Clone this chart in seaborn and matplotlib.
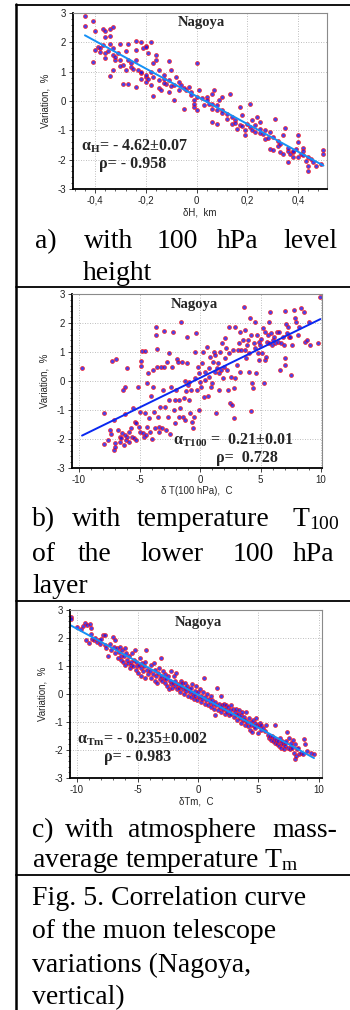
import numpy as np
import pandas as pd
import matplotlib
matplotlib.use("Agg")
import matplotlib.pyplot as plt
import seaborn as sns
from matplotlib.ticker import MultipleLocator, FixedLocator, FixedFormatter


# =====================================
# DATA
# =====================================

# a) variation vs 100 hPa level height change, km
points_height = [
    (-0.44, 2.90), (-0.44, 2.57), (-0.41, 2.72), (-0.40, 2.39), (-0.37, 2.47),
    (-0.36, 2.39), (-0.34, 2.45), (-0.33, 2.53), (-0.36, 2.19), (-0.34, 2.21),
    (-0.41, 1.33), (-0.40, 1.73), (-0.39, 1.85), (-0.37, 1.90), (-0.38, 1.68),
    (-0.36, 1.62), (-0.36, 1.45), (-0.34, 1.96), (-0.33, 1.79), (-0.33, 1.56),
    (-0.30, 1.96), (-0.31, 1.62), (-0.32, 1.39), (-0.33, 1.07), (-0.34, 0.84),
    (-0.30, 1.39), (-0.29, 1.22), (-0.28, 1.71), (-0.27, 1.96), (-0.27, 1.39),
    (-0.26, 1.16), (-0.29, 0.59), (-0.27, 0.57), (-0.26, 1.28), (-0.24, 2.05),
    (-0.24, 1.73), (-0.24, 1.39), (-0.23, 1.05), (-0.24, 0.48), (-0.22, 2.02),
    (-0.21, 1.79), (-0.20, 1.87), (-0.19, 1.62), (-0.18, 2.02), (-0.20, 1.85),
    (-0.22, 0.94), (-0.22, 0.76), (-0.20, 0.82), (-0.20, 0.65), (-0.18, 0.99),
    (-0.17, 1.28), (-0.18, 0.54), (-0.16, 1.56), (-0.16, 1.39), (-0.17, 0.82),
    (-0.17, 0.16), (-0.15, 1.05), (-0.15, 0.46), (-0.14, 0.36), (-0.13, 0.88),
    (-0.13, 0.76), (-0.12, 0.59), (-0.11, 0.31), (-0.11, 0.71), (-0.11, 1.37),
    (-0.10, 1.05), (-0.09, 0.54), (-0.09, 0.02), (-0.08, 0.82), (-0.07, 0.65),
    (-0.07, 0.36), (-0.06, 0.54), (-0.05, -0.26), (-0.04, 0.36), (-0.03, 0.48),
    (-0.02, 0.31), (-0.01, 0.02), (-0.01, -0.21), (-0.01, -0.09), (0.00, 0.14),
    (0.00, 1.30), (0.00, -0.32), (0.01, 0.36), (0.03, -0.15), (0.04, 0.14),
    (0.04, 0.02), (0.05, -0.09), (0.06, -0.26), (0.06, 0.25), (0.07, 0.36),
    (0.08, -0.15), (0.08, -0.32), (0.09, 0.02), (0.10, 0.14), (0.06, -0.72),
    (0.08, -0.78), (0.10, -0.32), (0.12, -0.43), (0.13, 0.25), (0.14, -0.55),
    (0.14, -0.78), (0.15, -0.66), (0.16, -0.95), (0.17, -0.83), (0.17, -0.21),
    (0.18, -0.49), (0.19, -1.17), (0.19, -1.00), (0.20, -0.78), (0.21, -0.09),
    (0.21, -0.89), (0.22, -0.66), (0.23, -1.06), (0.23, -0.83), (0.24, -0.55),
    (0.25, -0.72), (0.25, -0.95), (0.26, -1.12), (0.27, -1.29), (0.27, -1.00),
    (0.29, -1.06), (0.29, -1.63), (0.30, -1.66), (0.30, -1.23), (0.31, -0.60),
    (0.32, -1.35), (0.32, -1.52), (0.33, -1.74), (0.34, -1.80), (0.35, -0.91),
    (0.36, -2.09), (0.34, -1.17), (0.36, -1.69), (0.37, -1.80), (0.38, -1.92),
    (0.38, -1.74), (0.39, -1.63), (0.40, -1.17), (0.40, -1.40), (0.40, -1.92),
    (0.41, -1.80), (0.42, -1.59), (0.42, -1.69), (0.43, -2.03), (0.44, -2.37),
    (0.44, -2.20), (0.44, -1.92), (0.45, -1.97), (0.46, -2.09), (0.47, -2.20),
    (0.49, -2.14), (0.50, -1.66), (0.50, -1.82),
    (-0.30, 1.20), (-0.28, 1.05), (-0.25, 1.10), (-0.22, 1.00), (-0.20, 0.90),
    (-0.19, 0.75), (-0.15, 0.70), (-0.13, 0.60), (-0.10, 0.50), (-0.05, 0.45),
    (-0.02, 0.20), (0.02, 0.10), (0.06, -0.10), (0.10, -0.40), (0.12, -0.60),
    (0.15, -0.75), (0.18, -0.85), (0.22, -1.00), (0.25, -1.10), (0.28, -1.25),
    (0.33, -1.45), (0.36, -1.60), (0.38, -1.70), (0.42, -1.85), (-0.35, 1.70),
    (-0.32, 1.50), (-0.38, 1.80),
]

# b) variation vs temperature of the lower 100 hPa layer, C
points_t100 = [
    (-9.75, 0.44), (-7.96, -1.09), (-7.90, -2.17), (-7.41, -1.69), (-7.33, -1.83),
    (-7.27, 0.69), (-6.91, 0.77), (-7.13, -1.34), (-7.05, -2.15), (-7.08, -2.38),
    (-7.00, -2.26), (-6.64, -1.92), (-6.58, -2.09), (-6.50, -1.98), (-6.45, -1.80),
    (-6.39, -0.31), (-6.31, -2.21), (-6.23, -0.20), (-6.17, -1.14), (-6.12, -2.02),
    (-6.03, 0.46), (-6.03, -1.92), (-5.90, -1.75), (-5.84, -2.09), (-5.67, -1.63),
    (-5.62, -1.92), (-5.56, -0.94), (-5.48, -1.98), (-5.40, -1.40), (-5.29, -1.46),
    (-5.15, -0.20), (-5.07, -1.57), (-4.99, -1.06), (-4.93, -1.75), (-4.85, 0.69),
    (-4.85, 0.53), (-4.79, 1.05), (-4.74, -1.80), (-4.66, -1.92), (-4.57, 1.03),
    (-4.52, -1.11), (-4.46, -1.86), (-4.38, -0.08), (-4.30, 0.29), (-4.24, -1.29),
    (-4.10, -1.75), (-4.02, -0.52), (-3.97, -2.01), (-3.91, -0.20), (-3.86, 0.38),
    (-3.83, -1.06), (-3.75, -1.63), (-3.64, 1.87), (-3.64, 1.59), (-3.58, 1.09),
    (-3.55, 0.49), (-3.47, -1.23), (-3.42, -1.75), (-3.36, -1.57), (-3.28, -0.89),
    (-3.20, 0.49), (-3.14, -1.63), (-3.09, -0.31), (-3.00, 0.49), (-2.95, 1.72),
    (-2.87, -0.89), (-2.81, -1.69), (-2.73, 0.67), (-2.64, -1.23), (-2.59, 0.95),
    (-2.53, -0.66), (-2.45, -1.83), (-2.37, -0.22), (-2.31, 0.47), (-2.26, 1.68),
    (-2.18, -1.00), (-2.09, -1.46), (-2.04, -0.66), (-1.98, -0.31), (-1.90, 0.75),
    (-1.82, 0.67), (-1.76, -1.23), (-1.71, -0.66), (-1.63, -0.94), (-1.57, 2.05),
    (-1.49, 0.67), (-1.43, -1.23), (-1.35, -0.60), (-1.27, 0.01), (-1.21, -1.34),
    (-1.16, -0.33), (-1.07, 1.53), (-1.07, 0.63), (-0.99, -0.14), (-0.94, -0.66),
    (-0.88, -0.02), (-0.80, -1.11), (-0.72, -0.31), (-0.66, -1.40), (-0.61, -1.63),
    (-0.52, -1.23), (-0.44, 0.09), (-0.39, 1.01), (-0.33, 1.67), (-0.25, -0.31),
    (-0.17, 0.49), (-0.11, -1.00), (-0.06, 0.26), (0.03, -0.02), (0.11, -0.20),
    (0.17, 0.61), (0.22, 1.01), (0.30, -0.54), (0.39, 0.03), (0.44, 0.32),
    (0.58, 1.16), (0.66, -0.52), (0.72, 0.15), (0.77, 0.44), (0.85, 0.84),
    (0.94, -0.20), (0.99, -0.08), (1.05, 0.67), (1.13, 1.01), (1.21, 0.32),
    (1.27, 0.90), (1.32, -1.09), (1.40, 0.44), (1.49, 0.61), (1.54, 0.26),
    (1.60, -0.31), (1.68, 1.01), (1.76, 0.38), (1.82, 1.30), (1.87, 0.09),
    (1.96, 0.49), (2.04, 1.47), (2.09, 0.78), (2.15, 1.13), (2.23, 0.38),
    (2.31, -0.31), (2.37, 1.87), (2.42, 0.95), (2.51, -0.77), (2.59, 0.15),
    (2.64, -0.83), (2.70, 1.07), (2.78, -0.25), (2.84, -1.29), (2.92, 1.85),
    (2.92, 0.09), (3.06, 0.55), (3.14, 1.07), (3.20, 1.30), (3.28, 1.70),
    (3.33, 0.32), (3.42, 1.07), (3.53, 1.41), (3.61, 2.54), (3.69, 1.76),
    (3.75, 1.07), (3.80, 0.78), (3.88, 1.24), (3.97, 1.41), (4.02, 0.32),
    (4.08, 0.95), (4.16, 2.16), (4.21, 1.59), (4.24, -1.02), (4.30, -0.08),
    (4.35, -0.25), (4.44, 1.30), (4.52, 2.05), (4.57, 1.13), (4.63, 0.26),
    (4.71, 1.59), (4.79, 0.95), (4.85, 1.36), (4.90, 0.72), (4.99, 1.24),
    (5.07, 1.44), (5.12, 0.95), (5.18, 1.82), (5.26, -0.08), (5.34, 0.72),
    (5.40, 1.70), (5.45, 0.84), (5.54, 1.36), (5.62, 1.59), (5.67, 1.30),
    (5.73, 2.05), (5.81, 2.37), (5.90, 1.64), (5.95, 1.24), (6.03, 1.41),
    (6.09, 1.53), (6.23, 1.30), (6.36, 1.70), (6.45, 1.36), (6.56, 1.70),
    (6.64, 0.38), (6.72, 1.30), (6.83, 1.53), (6.91, 1.24), (6.99, 0.78),
    (6.99, 2.43), (7.05, 0.55), (7.11, 1.97), (7.19, 1.64), (7.27, 1.85),
    (7.33, 1.53), (7.47, 1.53), (7.55, 0.21), (7.60, 1.24), (7.74, 2.45),
    (7.82, 2.16), (7.93, 2.05), (8.10, 1.59), (8.21, 1.87), (8.37, 2.51),
    (8.57, 2.39), (8.71, 1.36), (8.84, 1.41), (8.98, 2.05), (9.12, 1.24),
    (9.75, 1.30), (9.95, 2.89),
    (-7.60, -2.05), (-6.80, -1.70), (-6.20, -1.85), (-5.30, -2.05), (-4.40, -1.60),
]

# c) variation vs atmosphere mass-average temperature, C
points_tm = [
    (-10.52, 2.76), (-10.47, 2.67), (-9.97, 2.38), (-9.64, 2.33), (-9.50, 2.44),
    (-9.31, 2.52), (-9.15, 2.48), (-8.95, 2.50), (-8.82, 2.36), (-9.23, 1.92),
    (-9.04, 1.83), (-8.87, 2.15), (-8.76, 1.98), (-8.60, 1.92), (-8.49, 2.01),
    (-8.32, 1.86), (-8.21, 1.94), (-8.13, 1.78), (-7.99, 1.98), (-7.85, 2.09),
    (-7.66, 2.12), (-7.71, 1.74), (-7.58, 1.63), (-7.44, 1.34), (-7.30, 1.80),
    (-7.22, 1.57), (-7.02, 2.03), (-6.94, 1.69), (-6.89, 1.92), (-6.83, 1.45),
    (-6.67, 1.63), (-6.61, 1.28), (-6.56, 1.51), (-6.47, 1.69), (-6.39, 1.36),
    (-6.34, 1.22), (-6.28, 1.57), (-6.20, 1.16), (-6.12, 1.34), (-6.06, 1.63),
    (-6.01, 1.05), (-5.92, 1.45), (-5.84, 1.22), (-5.79, 1.10), (-5.73, 1.34),
    (-5.65, 0.93), (-5.56, 1.16), (-5.51, 1.05), (-5.45, 1.45), (-5.37, 1.01),
    (-5.29, 1.22), (-5.23, 1.57), (-5.15, 0.87), (-5.10, 1.13), (-5.01, 0.99),
    (-4.96, 0.76), (-4.90, 1.05), (-4.82, 1.28), (-4.74, 0.64), (-4.68, 0.93),
    (-4.63, 1.10), (-4.55, 0.81), (-4.46, 0.99), (-4.41, 0.58), (-4.35, 1.16),
    (-4.27, 1.57), (-4.19, 0.87), (-4.13, 0.70), (-3.99, 0.81), (-3.91, 1.05),
    (-3.86, 0.58), (-3.72, 0.70), (-3.64, 1.10), (-3.58, 0.47), (-3.53, 0.87),
    (-3.44, 0.64), (-3.36, 0.41), (-3.31, 0.76), (-3.25, 0.93), (-3.17, 0.52),
    (-3.09, 0.64), (-3.03, 1.28), (-2.98, 0.47), (-2.89, 0.81), (-2.81, 0.58),
    (-2.75, 0.41), (-2.70, 0.70), (-2.62, 0.52), (-2.53, 0.29), (-2.48, 0.64),
    (-2.42, 0.17), (-2.34, 0.47), (-2.26, 0.35), (-2.20, 0.81), (-2.15, 0.23),
    (-2.07, 0.41), (-1.98, 0.64), (-1.93, 0.29), (-1.87, 0.47), (-1.79, 0.76),
    (-1.71, 0.17), (-1.65, 0.35), (-1.60, 0.23), (-1.52, 0.06), (-1.43, 0.47),
    (-1.38, 0.29), (-1.32, 0.41), (-1.24, 0.17), (-1.16, 0.00), (-1.10, 0.23),
    (-1.05, 0.41), (-0.96, 0.12), (-0.88, 0.29), (-0.83, -0.06), (-0.77, 0.17),
    (-0.69, 0.06), (-0.61, 0.23), (-0.55, -0.12), (-0.50, 0.35), (-0.41, 0.00),
    (-0.33, -0.17), (-0.28, 0.12), (-0.22, -0.06), (-0.14, 0.29), (-0.06, -0.23),
    (0.00, 0.06), (0.06, -0.12), (0.14, 0.17), (0.22, -0.29), (0.28, -0.06),
    (0.36, -0.17), (0.41, 0.06), (0.50, 0.58), (0.55, -0.35), (0.61, -0.12),
    (0.69, -0.23), (0.77, 0.00), (0.83, -0.41), (0.88, -0.17), (0.96, -0.29),
    (1.05, -0.06), (1.10, -0.47), (1.16, -0.23), (1.24, -0.35), (1.32, -0.52),
    (1.38, -0.76), (1.43, -0.29), (1.52, -0.41), (1.60, 0.23), (1.65, -0.58),
    (1.71, -0.35), (1.79, -0.47), (1.87, -0.06), (1.93, -0.64), (1.98, -0.41),
    (2.07, -0.52), (2.15, -0.35), (2.20, -0.70), (2.26, -0.52), (2.34, -0.41),
    (2.42, -0.64), (2.48, -0.47), (2.53, -0.76), (2.62, -0.58), (2.70, -0.41),
    (2.75, -0.70), (2.89, -0.52), (2.98, -0.81), (3.03, -0.64), (3.11, -0.52),
    (3.17, -0.76), (3.25, -0.93), (3.31, -0.70), (3.36, -0.58), (3.44, -0.87),
    (3.53, -0.76), (3.58, -1.05), (3.64, -0.64), (3.72, -0.93), (3.80, -0.81),
    (3.86, -1.10), (3.91, -0.93), (3.99, -0.64), (4.08, -0.99), (4.13, -1.16),
    (4.19, -0.87), (4.27, -1.28), (4.35, -0.99), (4.41, -1.10), (4.46, -1.34),
    (4.55, -0.93), (4.63, -1.16), (4.68, -1.05), (4.74, -1.22), (4.82, -0.87),
    (4.90, -1.10), (4.96, -1.40), (5.01, -1.16), (5.10, -1.05), (5.18, -1.28),
    (5.23, -1.10), (5.37, -1.22), (5.51, -1.31), (5.65, -1.10), (5.79, -1.45),
    (5.87, -1.57), (5.92, -1.51), (6.06, -1.63), (6.12, -1.51), (6.20, -1.69),
    (6.28, -1.57), (6.34, -1.10), (6.39, -1.74), (6.47, -1.63), (6.56, -1.80),
    (6.61, -1.69), (6.67, -1.86), (6.75, -1.57), (6.83, -1.74), (6.89, -1.92),
    (6.94, -1.69), (7.02, -1.80), (7.11, -1.98), (7.16, -1.74), (7.22, -1.86),
    (7.30, -1.69), (7.38, -1.34), (7.44, -1.92), (7.49, -1.57), (7.58, -1.98),
    (7.66, -1.86), (7.71, -1.74), (7.77, -1.92), (7.85, -1.63), (7.93, -2.09),
    (7.99, -2.33), (8.04, -1.80), (8.13, -2.21), (8.21, -1.98), (8.26, -1.92),
    (8.32, -2.15), (8.49, -2.09), (8.68, -2.15), (8.76, -1.59), (8.82, -1.78),
    (9.04, -2.03), (9.31, -2.09), (9.59, -2.15),
]

y_ticks = [-3, -2, -1, 0, 1, 2, 3]
y_tick_labels = ["-3", "-2", "-1", "0", "1", "2", "3"]

height_ticks = [-0.4, -0.2, 0.0, 0.2, 0.4]
height_tick_labels = ["-0,4", "-0,2", "0", "0,2", "0,4"]

temp_ticks = [-10, -5, 0, 5, 10]
temp_tick_labels = ["-10", "-5", "0", "5", "10"]

x_labels = ["\u03b4H,  km", "\u03b4 T(100 hPa),  C", "\u03b4Tm,  C"]

alpha_texts = [
    "\u03b1$_{\\mathbf{H}}$= - 4.62\u00b10.07",
    "\u03b1$_{\\mathbf{T100}}$ =  0.21\u00b10.01",
    "\u03b1$_{\\mathbf{Tm}}$= - 0.235\u00b10.002",
]
rho_texts = ["\u03c1= - 0.958", "\u03c1=  0.728", "\u03c1= - 0.983"]


# =====================================
# STYLE
# =====================================

sns.set_style("ticks")

plt.rcParams["font.family"] = ["Liberation Sans", "DejaVu Sans"]
plt.rcParams["mathtext.fontset"] = "custom"
plt.rcParams["mathtext.rm"] = "Liberation Serif"
plt.rcParams["mathtext.it"] = "Liberation Serif:italic"
plt.rcParams["mathtext.bf"] = "Liberation Serif:bold"

W, H = 350, 1010

fig = plt.figure(figsize=(W / 100, H / 100), dpi=100)
fig.patch.set_facecolor("white")


def box(left, top, right, bottom):
    return [left / W, 1 - bottom / H, (right - left) / W, (bottom - top) / H]


def fx(px):
    return px / W


def fy(py):
    return 1 - py / H


SERIF = ["Liberation Serif", "DejaVu Serif"]

panels = [
    dict(points=points_height, rect=box(73, 13, 327, 189), xlim=(-0.487, 0.514),
         xticks=height_ticks, xtick_labels=height_tick_labels, xminor=0.04,
         line_color="#1590f5", nagoya=(0.02, 2.66),
         alpha_pos=(-0.455, -1.55), rho_pos=(-0.385, -2.16)),
    dict(points=points_t100, rect=box(72, 294, 322, 468), xlim=(-10.58, 10.08),
         xticks=temp_ticks, xtick_labels=temp_tick_labels, xminor=1,
         line_color="#0a28f0", nagoya=(-0.5, 2.64),
         alpha_pos=(-2.25, -2.05), rho_pos=(1.35, -2.65)),
    dict(points=points_tm, rect=box(70, 610, 322, 778), xlim=(-10.58, 10.25),
         xticks=temp_ticks, xtick_labels=temp_tick_labels, xminor=1,
         line_color="#1590f5", nagoya=(0.0, 2.56),
         alpha_pos=(-10.0, -1.60), rho_pos=(-7.75, -2.26)),
]


# =====================================
# SCATTER PANELS
# =====================================

for i, p in enumerate(panels):

    ax = fig.add_axes(p["rect"])

    df = pd.DataFrame(p["points"], columns=["x", "y"])

    sns.regplot(
        data=df,
        x="x",
        y="y",
        ax=ax,
        ci=None,
        scatter_kws=dict(
            s=8,
            color="#1c14e6",
            edgecolor="#ff1a1a",
            linewidths=0.6,
        ),
        line_kws=dict(
            color=p["line_color"],
            lw=1.4,
        ),
    )

    ax.set_xlim(*p["xlim"])
    ax.set_ylim(-3, 3)

    ax.xaxis.set_major_locator(FixedLocator(p["xticks"]))
    ax.xaxis.set_major_formatter(FixedFormatter(p["xtick_labels"]))
    ax.xaxis.set_minor_locator(MultipleLocator(p["xminor"]))
    ax.yaxis.set_major_locator(FixedLocator(y_ticks))
    ax.yaxis.set_major_formatter(FixedFormatter(y_tick_labels))
    ax.yaxis.set_minor_locator(MultipleLocator(0.2))

    ax.grid(True, which="major", color="#a8a8a8", lw=0.6, linestyle=(0, (1, 2)))
    ax.set_axisbelow(True)

    ax.tick_params(which="major", direction="out", length=3, width=0.6,
                   labelsize=7, pad=2, colors="#222222")
    ax.tick_params(which="minor", direction="out", length=1.6, width=0.5,
                   colors="#222222")

    for side in ["left", "bottom"]:
        ax.spines[side].set_color("black")
        ax.spines[side].set_linewidth(1.3)
    for side in ["top", "right"]:
        ax.spines[side].set_visible(True)
        ax.spines[side].set_color("#8a8a8a")
        ax.spines[side].set_linewidth(0.8)

    ax.set_xlabel(x_labels[i], fontsize=7, labelpad=1)
    ax.set_ylabel("Variation,  %", fontsize=7, labelpad=5)

    ax.text(*p["nagoya"], "Nagoya", ha="center", va="center",
            fontsize=10.5, fontweight="bold", family=SERIF)
    ax.text(*p["alpha_pos"], alpha_texts[i], ha="left", va="center",
            fontsize=11.5, fontweight="bold", family=SERIF)
    ax.text(*p["rho_pos"], rho_texts[i], ha="left", va="center",
            fontsize=11.5, fontweight="bold", family=SERIF)


# =====================================
# CAPTIONS (table cells)
# =====================================

CAP = 20

caption_words = [
    # (text, left px, baseline px)
    ("a)", 35, 248), ("with", 84, 248), ("100", 157, 248),
    ("hPa", 217, 248), ("level", 283, 248),
    ("height", 83, 280),
    ("b)", 32, 526), ("with", 72, 526), ("temperature", 137, 526),
    ("T$_{\\mathrm{100}}$", 292, 526),
    ("of", 32, 561), ("the", 78, 561), ("lower", 140, 561),
    ("100", 233, 561), ("hPa", 293, 561),
    ("layer", 32, 593),
    ("c)", 32, 837), ("with", 65, 837), ("atmosphere", 128, 837),
    ("mass-", 272, 837),
    ("average temperature T$_{\\mathrm{m}}$", 32, 867),
    ("Fig. 5. Correlation curve", 32, 905),
    ("of the muon telescope", 32, 938),
    ("variations (Nagoya,", 32, 972),
    ("vertical)", 32, 1004),
]

for text, left, base in caption_words:
    fig.text(fx(left), fy(base), text, ha="left", va="baseline",
             fontsize=CAP, family=SERIF, color="black")


# table rules
for y in [5, 287, 601, 875]:
    fig.add_artist(plt.Line2D([fx(16), fx(350)], [fy(y), fy(y)],
                              color="black", lw=1.3))
fig.add_artist(plt.Line2D([fx(16), fx(16)], [fy(4), fy(1010)],
                          color="black", lw=1.8))

plt.savefig("out.png", dpi=100, facecolor="white")
plt.close()
